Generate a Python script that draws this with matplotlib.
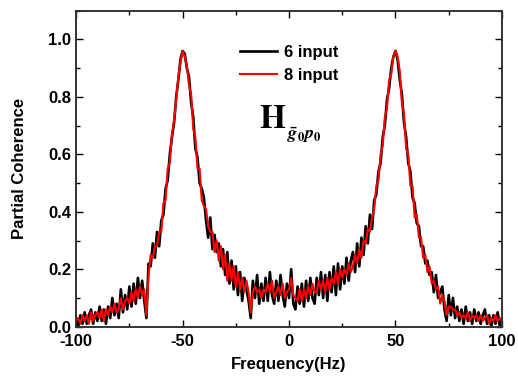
import matplotlib
matplotlib.use('Agg')
import matplotlib.pyplot as plt
import numpy as np
from matplotlib.ticker import MultipleLocator

# frequency bins, 1 Hz spacing
freq = np.arange(-100, 101)

# partial coherence, 6 inputs
coh_6 = [
    0.03, 0.00, 0.04, 0.01, 0.05, 0.01, 0.04, 0.06, 0.01, 0.05,
    0.02, 0.07, 0.02, 0.06, 0.01, 0.07, 0.03, 0.10, 0.04, 0.08,
    0.03, 0.13, 0.05, 0.11, 0.06, 0.14, 0.07, 0.15, 0.08, 0.17,
    0.10, 0.16, 0.09, 0.03, 0.22, 0.21, 0.29, 0.24, 0.33, 0.28,
    0.37, 0.39, 0.48, 0.51, 0.60, 0.66, 0.71, 0.80, 0.86, 0.93,
    0.96, 0.95, 0.90, 0.87, 0.78, 0.73, 0.62, 0.59, 0.50, 0.48,
    0.45, 0.37, 0.31, 0.38, 0.27, 0.32, 0.26, 0.29, 0.21, 0.27,
    0.18, 0.26, 0.15, 0.23, 0.13, 0.21, 0.11, 0.19, 0.09, 0.17,
    0.13, 0.09, 0.03, 0.16, 0.10, 0.18, 0.08, 0.15, 0.09, 0.17,
    0.09, 0.19, 0.11, 0.08, 0.16, 0.09, 0.18, 0.11, 0.07, 0.15,
    0.10, 0.20, 0.08, 0.06, 0.14, 0.08, 0.15, 0.07, 0.16, 0.09,
    0.17, 0.10, 0.08, 0.17, 0.11, 0.19, 0.10, 0.18, 0.09, 0.19,
    0.12, 0.21, 0.11, 0.22, 0.13, 0.21, 0.15, 0.24, 0.16, 0.23,
    0.26, 0.19, 0.29, 0.21, 0.31, 0.25, 0.35, 0.29, 0.39, 0.34,
    0.44, 0.46, 0.54, 0.57, 0.66, 0.70, 0.79, 0.83, 0.90, 0.94,
    0.96, 0.93, 0.86, 0.81, 0.71, 0.66, 0.57, 0.54, 0.45, 0.43,
    0.36, 0.35, 0.28, 0.28, 0.22, 0.23, 0.18, 0.19, 0.12, 0.18,
    0.10, 0.12, 0.14, 0.06, 0.02, 0.11, 0.04, 0.10, 0.03, 0.07,
    0.02, 0.06, 0.01, 0.07, 0.02, 0.05, 0.01, 0.06, 0.02, 0.05,
    0.01, 0.04, 0.06, 0.01, 0.04, 0.00, 0.04, 0.01, 0.05, 0.00, 0.03,
]

# partial coherence, 8 inputs
coh_8 = [
    0.02, 0.03, 0.01, 0.04, 0.02, 0.04, 0.01, 0.05, 0.02, 0.04,
    0.05, 0.03, 0.06, 0.02, 0.06, 0.04, 0.07, 0.05, 0.08, 0.05,
    0.06, 0.10, 0.06, 0.09, 0.10, 0.08, 0.12, 0.09, 0.13, 0.10,
    0.14, 0.11, 0.13, 0.04, 0.18, 0.25, 0.24, 0.28, 0.28, 0.33,
    0.33, 0.43, 0.44, 0.55, 0.57, 0.67, 0.72, 0.79, 0.87, 0.92,
    0.96, 0.94, 0.91, 0.84, 0.81, 0.69, 0.66, 0.55, 0.55, 0.44,
    0.42, 0.41, 0.35, 0.33, 0.33, 0.26, 0.30, 0.23, 0.28, 0.20,
    0.25, 0.16, 0.22, 0.16, 0.21, 0.14, 0.19, 0.13, 0.17, 0.12,
    0.16, 0.12, 0.05, 0.12, 0.14, 0.12, 0.13, 0.10, 0.13, 0.12,
    0.15, 0.12, 0.16, 0.10, 0.12, 0.14, 0.11, 0.15, 0.10, 0.12,
    0.13, 0.17, 0.11, 0.10, 0.09, 0.13, 0.09, 0.13, 0.10, 0.14,
    0.11, 0.15, 0.12, 0.12, 0.16, 0.13, 0.16, 0.12, 0.17, 0.13,
    0.17, 0.15, 0.19, 0.15, 0.20, 0.17, 0.20, 0.18, 0.22, 0.19,
    0.21, 0.25, 0.22, 0.27, 0.24, 0.30, 0.29, 0.34, 0.33, 0.38,
    0.41, 0.49, 0.51, 0.60, 0.63, 0.73, 0.76, 0.86, 0.88, 0.94,
    0.96, 0.94, 0.89, 0.78, 0.74, 0.62, 0.60, 0.49, 0.49, 0.38,
    0.39, 0.31, 0.31, 0.24, 0.25, 0.19, 0.21, 0.15, 0.16, 0.13,
    0.14, 0.08, 0.11, 0.09, 0.04, 0.07, 0.07, 0.06, 0.06, 0.04,
    0.05, 0.03, 0.04, 0.03, 0.05, 0.02, 0.04, 0.03, 0.04, 0.02,
    0.04, 0.02, 0.03, 0.04, 0.01, 0.03, 0.02, 0.04, 0.02, 0.03, 0.02,
]

plt.rcParams['font.family'] = ['Liberation Sans', 'DejaVu Sans']
plt.rcParams['font.weight'] = 'bold'
plt.rcParams['mathtext.fontset'] = 'stix'
plt.rcParams['axes.unicode_minus'] = False

fig = plt.figure(figsize=(5.18, 3.83), dpi=100)
ax = fig.add_axes([0.147, 0.147, 0.822, 0.825])

ax.plot(freq, coh_6, color='black', lw=1.9, label='6 input')
ax.plot(freq, coh_8, color='red', lw=1.5, label='8 input')

ax.set_xlim(-100, 100)
ax.set_ylim(0, 1.1)
ax.xaxis.set_major_locator(MultipleLocator(50))
ax.xaxis.set_minor_locator(MultipleLocator(25))
ax.yaxis.set_minor_locator(MultipleLocator(0.1))
ax.set_yticks([0.0, 0.2, 0.4, 0.6, 0.8, 1.0])
ax.set_yticklabels(['0.0', '0.2', '0.4', '0.6', '0.8', '1.0'])

ax.tick_params(which='both', direction='in', top=True, right=True,
               labelsize=12, width=1.0)
ax.tick_params(which='major', length=5)
ax.tick_params(which='minor', length=3)
ax.tick_params(axis='x', pad=5)
for lbl in ax.get_xticklabels() + ax.get_yticklabels():
    lbl.set_fontweight('bold')
for sp in ax.spines.values():
    sp.set_linewidth(1.4)
    sp.set_color('#333333')

ax.set_xlabel('Frequency(Hz)', fontsize=12, fontweight='bold', labelpad=6)
ax.set_ylabel('Partial Coherence', fontsize=12, fontweight='bold', labelpad=15)

leg = ax.legend(loc='upper left', bbox_to_anchor=(0.35, 0.94), frameon=False,
                fontsize=12, handlelength=2.2, handletextpad=0.4,
                labelspacing=0.5)
for t in leg.get_texts():
    t.set_fontweight('bold')

# label H with subscript, drawn as two pieces so the subscript sits low
ax.text(0.43, 0.63, r'$\mathbf{H}$', transform=ax.transAxes,
        fontsize=24, ha='left', va='baseline')
ax.text(0.495, 0.595, r'$\bar{g}_0 p_0$', transform=ax.transAxes,
        fontsize=13, fontweight='normal', ha='left', va='baseline')

fig.savefig('out.png', dpi=100, facecolor='white')
